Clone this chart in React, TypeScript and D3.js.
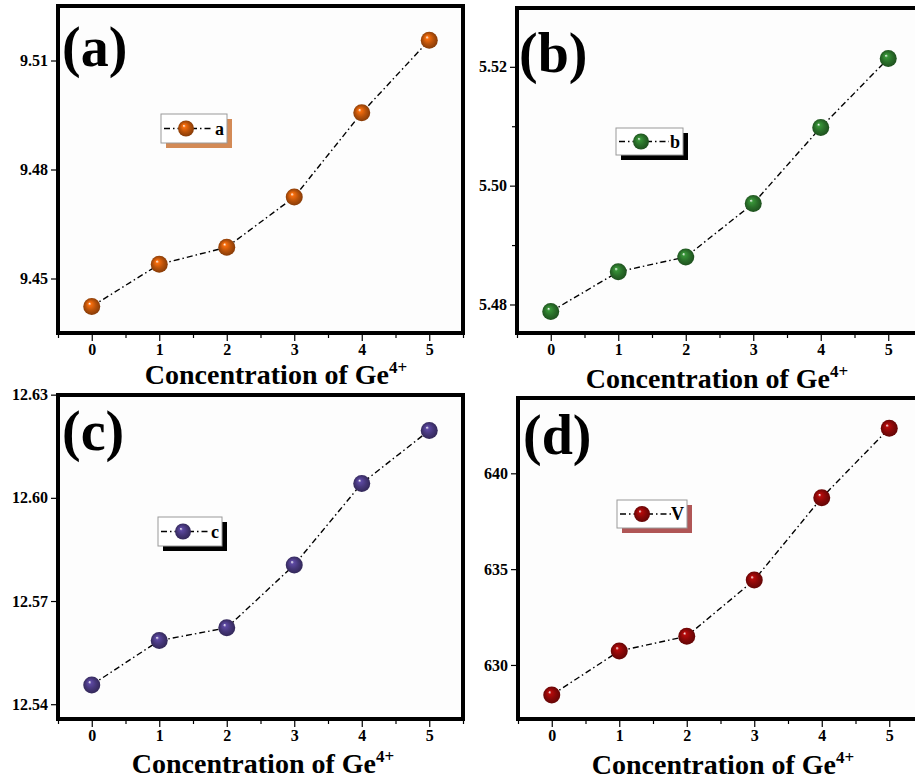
import React, { useEffect, useRef } from "react";
import * as d3 from "d3";

// values
const concentration = [0, 1, 2, 3, 4, 5];
const latticeA = [9.4423, 9.4539, 9.4586, 9.4724, 9.4956, 9.5156];
const latticeB = [5.4788, 5.4855, 5.488, 5.497, 5.5098, 5.5214];
const latticeC = [12.5456, 12.5585, 12.5622, 12.5805, 12.6042, 12.6196];
const cellVolume = [628.43, 630.73, 631.5, 634.43, 638.73, 642.35];

const xTicks = [0, 1, 2, 3, 4, 5];
const xMinorTicks = [-0.5, 0.5, 1.5, 2.5, 3.5, 4.5, 5.5];
const yTicksA = [9.45, 9.48, 9.51];
const yTicksB = [5.48, 5.5, 5.52];
const yMinorB = [5.49, 5.51];
const yTicksC = [12.54, 12.57, 12.6, 12.63];
const yTicksD = [630, 635, 640];

const panelTags = ["(a)", "(b)", "(c)", "(d)"];
const legendLabels = ["a", "b", "c", "V"];
const xTitle = "Concentration of Ge";
const xTitleSup = "4+";

const W = 915,
  H = 782;
const FONT = "'Liberation Serif', 'Times New Roman', serif";

const panels = [
  {
    values: latticeA, ticks: yTicksA, minor: [] as number[], fmt: ".2f",
    domain: [9.435, 9.525], l: 58, t: 6, r: 463, b: 333,
    color: "#b9520a", shadow: "#d38a56",
    lg: { x: 161, y: 114, w: 66, h: 29 }, tag: { x: 62, y: 66 }, title: { x: 276, y: 384 },
  },
  {
    values: latticeB, ticks: yTicksB, minor: yMinorB, fmt: ".2f",
    domain: [5.4752, 5.5299], l: 517, t: 8, r: 922, b: 333,
    color: "#2a6f2a", shadow: "#000000",
    lg: { x: 616, y: 128, w: 67, h: 27 }, tag: { x: 519, y: 72 }, title: { x: 717, y: 388 },
  },
  {
    values: latticeC, ticks: yTicksC, minor: [] as number[], fmt: ".2f",
    domain: [12.5357, 12.6299], l: 58, t: 395, r: 463, b: 719,
    color: "#46377a", shadow: "#000000",
    lg: { x: 158, y: 517, w: 64, h: 29 }, tag: { x: 62, y: 450 }, title: { x: 263, y: 773 },
  },
  {
    values: cellVolume, ticks: yTicksD, minor: [] as number[], fmt: "d",
    domain: [627.18, 643.93], l: 518, t: 398, r: 923, b: 719,
    color: "#880808", shadow: "#b05656",
    lg: { x: 617, y: 500, w: 70, h: 28 }, tag: { x: 523, y: 454 }, title: { x: 723, y: 774 },
  },
];

export default function App() {
  const ref = useRef<SVGSVGElement>(null);

  useEffect(() => {
    const svg = d3.select(ref.current);
    svg.selectAll("*").remove();
    svg.append("rect").attr("width", W).attr("height", H).attr("fill", "#fff");

    const defs = svg.append("defs");

    panels.forEach((p, i) => {
      const grad = defs
        .append("radialGradient")
        .attr("id", `ball${i}`)
        .attr("cx", "50%").attr("cy", "50%").attr("r", "55%")
        .attr("fx", "36%").attr("fy", "32%");
      const c = d3.color(p.color)!;
      grad.append("stop").attr("offset", "0%").attr("stop-color", "#ffffff");
      grad.append("stop").attr("offset", "18%").attr("stop-color", c.brighter(0.8).formatHex());
      grad.append("stop").attr("offset", "55%").attr("stop-color", p.color);
      grad.append("stop").attr("offset", "100%").attr("stop-color", c.darker(1.1).formatHex());

      const x = d3.scaleLinear().domain([-0.5, 5.5]).range([p.l, p.r]);
      const y = d3.scaleLinear().domain(p.domain).range([p.b, p.t]);
      const g = svg.append("g");

      g.append("rect")
        .attr("x", p.l).attr("y", p.t)
        .attr("width", p.r - p.l).attr("height", p.b - p.t)
        .attr("fill", "#fdfdfd");

      // axes
      const xAxis = g
        .append("g")
        .attr("transform", `translate(0,${p.b + 2})`)
        .call(
          d3.axisBottom(x).tickValues(xTicks).tickSize(6).tickPadding(3)
            .tickFormat((d) => d3.format("d")(d as number))
        );
      g.append("g")
        .attr("transform", `translate(0,${p.b + 2})`)
        .call(d3.axisBottom(x).tickValues(xMinorTicks).tickSize(3).tickFormat(() => ""))
        .call((a) => a.select(".domain").remove());
      const yAxis = g
        .append("g")
        .attr("transform", `translate(${p.l - 2},0)`)
        .call(
          d3.axisLeft(y).tickValues(p.ticks).tickSize(5).tickPadding(3)
            .tickFormat((d) => d3.format(p.fmt)(d as number))
        );
      if (p.minor.length) {
        g.append("g")
          .attr("transform", `translate(${p.l - 2},0)`)
          .call(d3.axisLeft(y).tickValues(p.minor).tickSize(3).tickFormat(() => ""))
          .call((a) => a.select(".domain").remove());
      }
      [xAxis, yAxis].forEach((a) => {
        a.select(".domain").remove();
        a.selectAll("text")
          .attr("font-family", FONT)
          .attr("font-weight", "bold")
          .attr("font-size", 16)
          .attr("fill", "#000");
      });
      g.selectAll(".tick line").attr("stroke", "#000").attr("stroke-width", 1.2);

      // frame
      g.append("rect")
        .attr("x", p.l).attr("y", p.t)
        .attr("width", p.r - p.l).attr("height", p.b - p.t)
        .attr("fill", "none").attr("stroke", "#000").attr("stroke-width", 4);

      // line + markers
      const line = d3
        .line<number>()
        .x((_, k) => x(concentration[k]))
        .y((d) => y(d));
      g.append("path")
        .datum(p.values)
        .attr("d", line)
        .attr("fill", "none")
        .attr("stroke", "#000")
        .attr("stroke-width", 1.4)
        .attr("stroke-dasharray", "6,3,1.5,3");
      g.selectAll(".pt")
        .data(p.values)
        .join("circle")
        .attr("cx", (_, k) => x(concentration[k]))
        .attr("cy", (d) => y(d))
        .attr("r", 8.5)
        .attr("fill", `url(#ball${i})`);

      // panel tag
      g.append("text")
        .attr("x", p.tag.x).attr("y", p.tag.y)
        .attr("font-family", FONT).attr("font-weight", "bold").attr("font-size", 56)
        .text(panelTags[i]);

      // legend
      const lg = p.lg;
      g.append("rect")
        .attr("x", lg.x + 5).attr("y", lg.y + 5)
        .attr("width", lg.w).attr("height", lg.h)
        .attr("fill", p.shadow);
      g.append("rect")
        .attr("x", lg.x).attr("y", lg.y)
        .attr("width", lg.w).attr("height", lg.h)
        .attr("fill", "#fff").attr("stroke", "#9a9a9a").attr("stroke-width", 1);
      const my = lg.y + lg.h / 2;
      g.append("line")
        .attr("x1", lg.x + 3).attr("x2", lg.x + lg.w - 14)
        .attr("y1", my).attr("y2", my)
        .attr("stroke", "#000").attr("stroke-width", 1.4)
        .attr("stroke-dasharray", "6,3,1.5,3");
      g.append("circle")
        .attr("cx", lg.x + 25).attr("cy", my).attr("r", 8)
        .attr("fill", `url(#ball${i})`);
      g.append("text")
        .attr("x", lg.x + lg.w - 3).attr("y", my + 6)
        .attr("text-anchor", "end")
        .attr("font-family", FONT).attr("font-weight", "bold").attr("font-size", 18)
        .text(legendLabels[i]);

      // x title
      const tt = g
        .append("text")
        .attr("x", p.title.x).attr("y", p.title.y)
        .attr("text-anchor", "middle")
        .attr("font-family", FONT).attr("font-weight", "bold").attr("font-size", 28);
      tt.append("tspan").text(xTitle);
      tt.append("tspan").attr("dy", -11).attr("font-size", 17).text(xTitleSup);
    });
  }, []);

  return (
    <svg
      ref={ref}
      width={W}
      height={H}
      style={{ position: "absolute", left: 0, top: 0 }}
    />
  );
}
